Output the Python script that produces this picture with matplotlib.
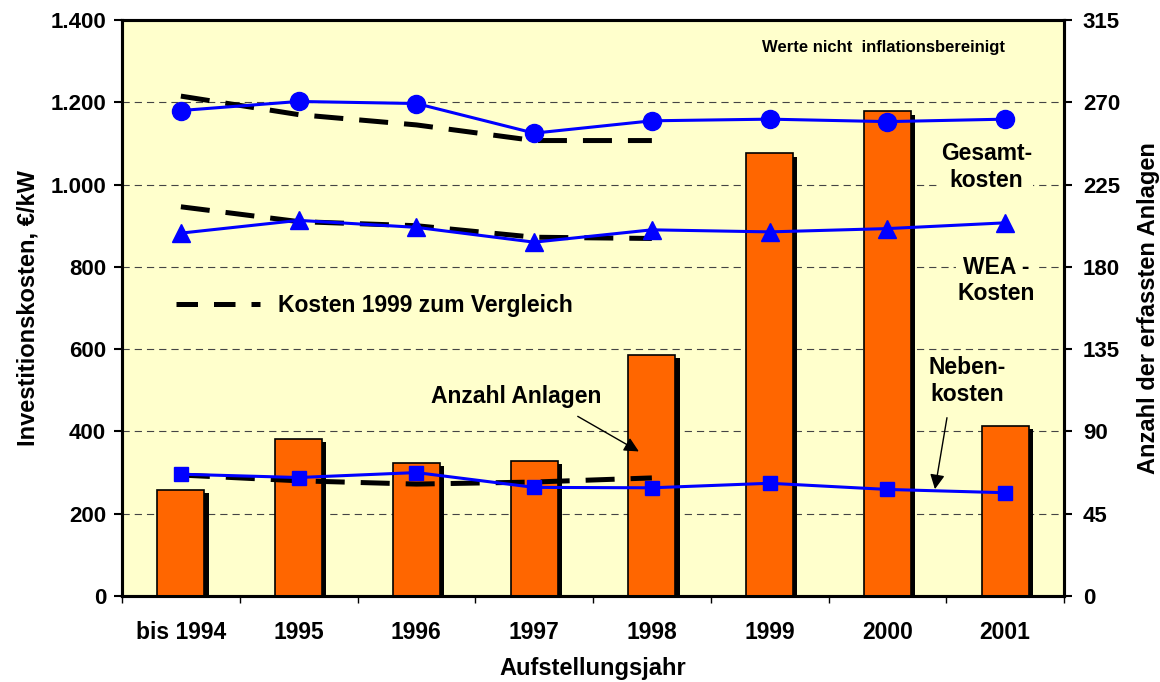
import numpy as np
import matplotlib
matplotlib.use('Agg')
import matplotlib.pyplot as plt
import matplotlib.patheffects as pe
from matplotlib.lines import Line2D
from matplotlib.ticker import FuncFormatter, FixedLocator

plt.rcParams['font.family'] = 'Liberation Sans'
plt.rcParams['font.weight'] = 'bold'

# data
jahre = ['bis 1994', '1995', '1996', '1997', '1998', '1999', '2000', '2001']
anzahl = [58, 86, 73, 74, 132, 242, 265, 93]
gesamt = [1180, 1202, 1197, 1125, 1155, 1159, 1153, 1159]
wea = [882, 913, 896, 860, 890, 885, 893, 907]
neben = [296, 288, 300, 264, 263, 274, 259, 251]
# Kosten 1999 zum Vergleich (bis 1994 .. 1998)
gesamt_99 = [1215, 1170, 1145, 1107, 1107]
wea_99 = [946, 910, 900, 872, 869]
neben_99 = [294, 280, 272, 277, 287]

bg = '#FFFFCC'
blue = '#0000FF'
orange = '#FF6600'

fig = plt.figure(figsize=(11.6, 6.82), dpi=100)
ax = fig.add_axes([122/1160, 1-596/682, 942/1160, 576/682])
ax2 = ax.twinx()
ax.set_zorder(2)
ax2.set_zorder(1)
ax.patch.set_visible(False)
ax2.patch.set_visible(True)
ax2.patch.set_facecolor(bg)

x = np.arange(len(jahre))
x99 = np.arange(len(gesamt_99))

# bars with shadow on right axis
bars = ax2.bar(x, anzahl, width=0.4, color=orange, edgecolor='black', linewidth=1.2, zorder=3)
for b in bars:
    b.set_path_effects([pe.SimplePatchShadow(offset=(3, -2.5), shadow_rgbFace='black', alpha=1.0), pe.Normal()])

ax2.set_ylim(0, 315)
ax2.set_yticks(np.arange(0, 316, 45))
ax2.yaxis.grid(True, color='#444444', linestyle=(0, (6.5, 4.5)), linewidth=0.8, zorder=0)
ax2.set_axisbelow(True)

# cost lines on left axis
dash = dict(color='black', linewidth=3.6, dashes=(5.8, 3.2), dash_capstyle='butt', zorder=2)
ax.plot(x99, gesamt_99, **dash)
ax.plot(x99, wea_99, **dash)
ax.plot(x99, neben_99, **dash)
ax.plot(x, gesamt, color=blue, linewidth=2.2, marker='o', markersize=13, zorder=3)
ax.plot(x, wea, color=blue, linewidth=2.2, marker='^', markersize=13, zorder=3)
ax.plot(x, neben, color=blue, linewidth=2.2, marker='s', markersize=10.5, zorder=3)

ax.set_xlim(-0.5, len(jahre) - 0.5)
ax.set_ylim(0, 1400)
ax.set_yticks(np.arange(0, 1401, 200))
ax.yaxis.set_major_formatter(FuncFormatter(lambda v, p: '{:,.0f}'.format(v).replace(',', '.')))

ax.xaxis.set_major_locator(FixedLocator(np.arange(-0.5, len(jahre), 1)))
ax.xaxis.set_minor_locator(FixedLocator(x))
ax.set_xticklabels([])
ax.set_xticklabels(jahre, minor=True)
ax.tick_params(axis='x', which='major', direction='out', length=5, width=1)
ax.tick_params(axis='x', which='minor', length=0, pad=18, labelsize=16.5)
ax.tick_params(axis='y', direction='out', length=5.5, width=1.5, pad=6, labelsize=16)
ax2.tick_params(axis='y', direction='out', length=5.5, width=1.5, pad=8, labelsize=16)

for a in (ax, ax2):
    for s in a.spines.values():
        s.set_linewidth(2.2)
        s.set_color('black')

ax.set_ylabel('Investitionskosten, €/kW', fontsize=17, fontweight='bold', labelpad=8)
ax2.set_ylabel('Anzahl der erfassten Anlagen', fontsize=17, fontweight='bold', labelpad=12)
ax.set_xlabel('Aufstellungsjahr', fontsize=17, fontweight='bold', labelpad=9)

# legend
handle = Line2D([], [], color='black', linewidth=3.6, dashes=(4.3, 3.2), dash_capstyle='butt')
leg = ax.legend(handles=[handle], labels=['Kosten 1999 zum Vergleich'],
                loc='center left', bbox_to_anchor=(0.057, 0.504), frameon=False,
                borderpad=0, borderaxespad=0, handlelength=3.7, handletextpad=0.75,
                prop={'size': 16.5, 'weight': 'bold'})

# annotations
box = dict(facecolor=bg, edgecolor='none', pad=1)
ax.text(5.97, 1332, 'Werte nicht  inflationsbereinigt', ha='center', va='center', fontsize=12)
ax.text(6.84, 1043, 'Gesamt-\nkosten', ha='center', va='center', fontsize=16.5, linespacing=1.2, bbox=box)
ax.text(6.92, 767, 'WEA -\nKosten', ha='center', va='center', fontsize=16.5, linespacing=1.2, bbox=box)
ax.text(6.68, 522, 'Neben-\nkosten', ha='center', va='center', fontsize=16.5, linespacing=1.2, bbox=box)
ax.text(2.85, 486, 'Anzahl Anlagen', ha='center', va='center', fontsize=16.5)
arrow = dict(arrowstyle='-|>', color='black', lw=1, mutation_scale=22)
ax.annotate('', xy=(3.91, 348), xytext=(3.35, 440), arrowprops=arrow)
ax.annotate('', xy=(6.40, 253), xytext=(6.51, 440), arrowprops=arrow)

fig.savefig('out.png', dpi=100, facecolor='white')
